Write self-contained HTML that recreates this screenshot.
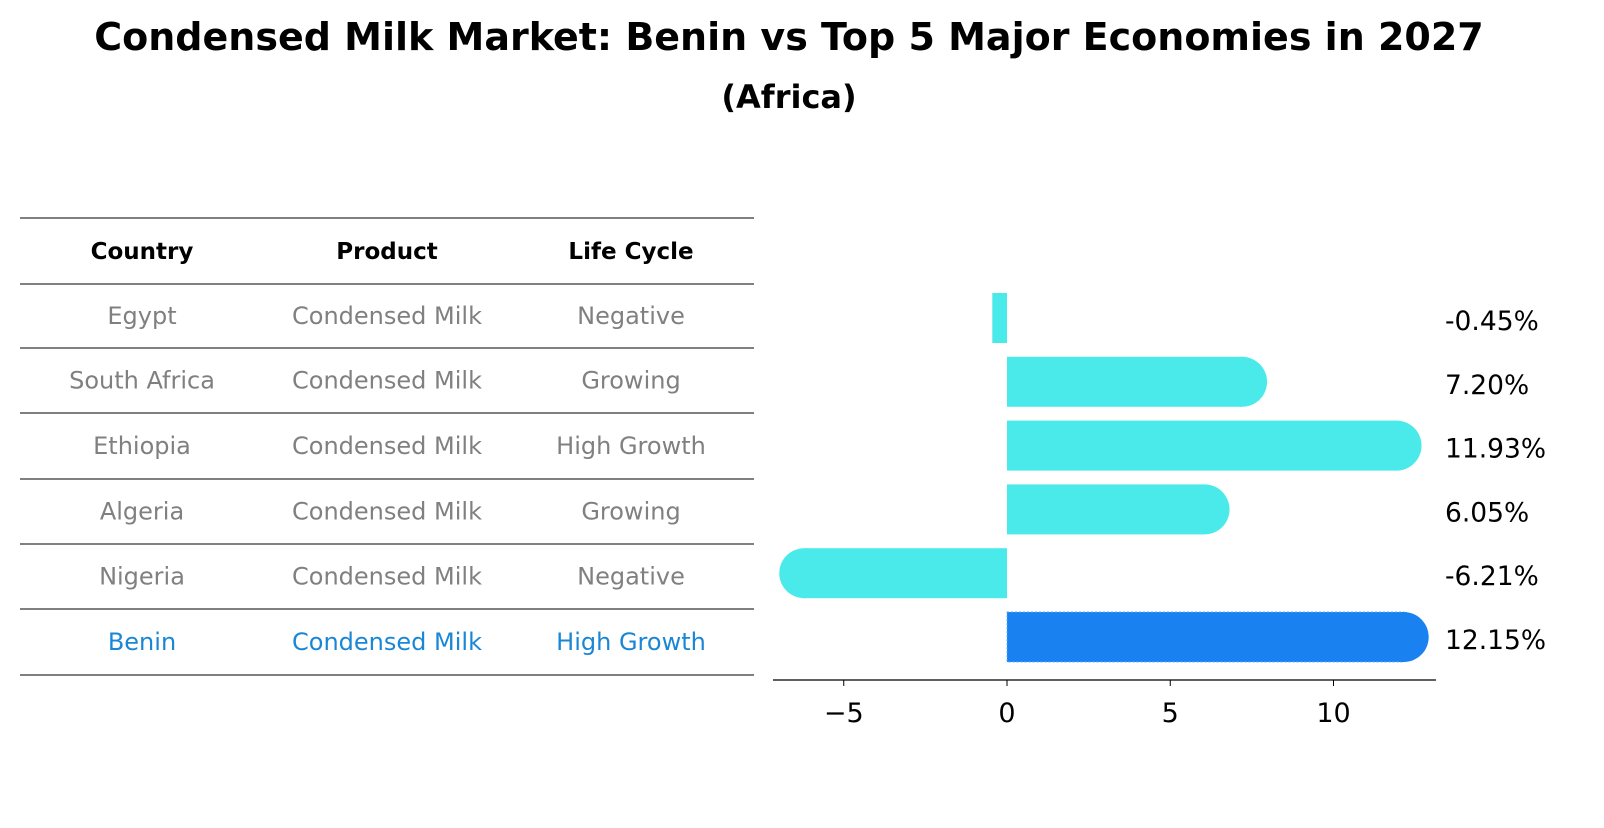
<!DOCTYPE html>
<html><head><meta charset="utf-8"><style>
body{margin:0;background:#fff;font-family:"Liberation Sans","DejaVu Sans",sans-serif;}
svg text{font-family:"DejaVu Sans","Liberation Sans",sans-serif;}
</style></head><body>
<svg width="1604" height="823" xmlns="http://www.w3.org/2000/svg">
<text x="789" y="50" text-anchor="middle" font-size="38" font-weight="bold">Condensed Milk Market: Benin vs Top 5 Major Economies in 2027</text>
<text x="789" y="108" text-anchor="middle" font-size="32" font-weight="bold">(Africa)</text>
<g id="table"></g>
<g id="bars"></g>
</svg>
<script>
const countries=["Egypt","South Africa","Ethiopia","Algeria","Nigeria","Benin"];
const products=["Condensed Milk","Condensed Milk","Condensed Milk","Condensed Milk","Condensed Milk","Condensed Milk"];
const lifeCycles=["Negative","Growing","High Growth","Growing","Negative","High Growth"];
const growth=[-0.45,7.20,11.93,6.05,-6.21,12.15];
const ticks=[-5,0,5,10];
const NS="http://www.w3.org/2000/svg";
function mk(tag,attrs,parent){const e=document.createElementNS(NS,tag);for(const k in attrs)e.setAttribute(k,attrs[k]);parent.appendChild(e);return e;}
const tbl=document.getElementById('table');
const lineYs=[218,284,348,413,479,544,609,675];
lineYs.forEach((y,i)=>{const l=mk('line',{x1:20,x2:754,y1:y,y2:y,stroke:'#000','stroke-width':1},tbl);

});
const colX=[142,387,631];
["Country","Product","Life Cycle"].forEach((h,i)=>{const t=mk('text',{x:colX[i],y:259,'text-anchor':'middle','font-size':23,'font-weight':'bold'},tbl);t.textContent=h;

});
countries.forEach((c,r)=>{const y=(lineYs[r+1]+lineYs[r+2])/2+8;const col=c==="Benin"?"#1a87d6":"#808080";
[c,products[r],lifeCycles[r]].forEach((v,i)=>{const t=mk('text',{x:colX[i],y:y,'text-anchor':'middle','font-size':24,fill:col},tbl);t.textContent=v;

});});
const g=document.getElementById('bars');
const x0=1007,ppu=32.65;
const xs=v=>x0+v*ppu;
const yc=i=>318+i*63.8;
const bh=50;
growth.forEach((v,i)=>{const isB=countries[i]==="Benin";const col=isB?"#1a82f0":"#4aeaea";
const a=Math.min(xs(0),xs(v)),b=Math.max(xs(0),xs(v));
const r=mk('rect',{x:a,y:yc(i)-bh/2,width:b-a,height:bh,fill:col},g);


if(isB){r.setAttribute('stroke','#5ab0ff');r.setAttribute('stroke-dasharray','2,2');}
if(Math.abs(v)>1){const c=mk('circle',{cx:xs(v),cy:yc(i),r:bh/2,fill:col},g);

}
const t=mk('text',{x:1445,y:yc(i)+12,'font-size':26.5},g);t.textContent=v.toFixed(2)+'%';

});
const ax=mk('line',{x1:773,x2:1436,y1:680,y2:680,stroke:'#000','stroke-width':1.2},g);


ticks.forEach(v=>{const tk=mk('line',{x1:xs(v),x2:xs(v),y1:680,y2:686,stroke:'#000'},g);


const t=mk('text',{x:xs(v),y:722,'text-anchor':'middle','font-size':27},g);t.textContent=v<0?'\u2212'+Math.abs(v):String(v);

});
</script>
</body></html>
